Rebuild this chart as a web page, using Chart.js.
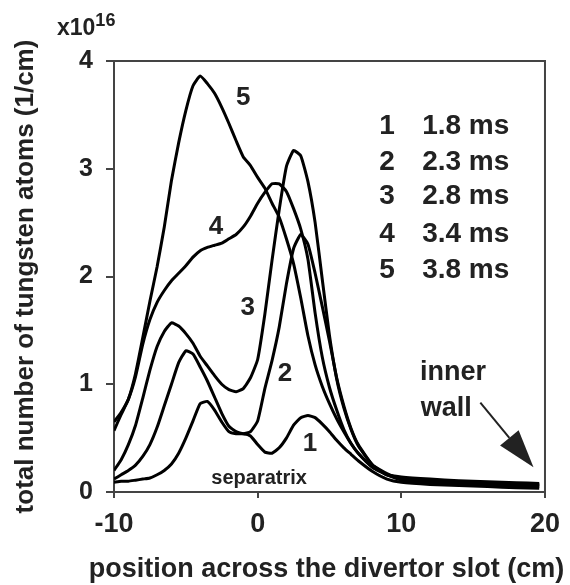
<!DOCTYPE html>
<html>
<head>
<meta charset="utf-8">
<script src="https://cdn.jsdelivr.net/npm/chart.js@4.4.1/dist/chart.umd.min.js"></script>
<style>
  html, body { margin: 0; padding: 0; background: #fff; }
  #wrap { width: 570px; height: 585px; }
</style>
</head>
<body>
<div id="wrap"><canvas id="chart" width="570" height="585"></canvas></div>
<script>
// positions across the divertor slot (cm)
const xPos = [-10, -9.5, -9, -8.5, -8, -7.5, -7, -6.5, -6, -5.5, -5, -4.5, -4, -3.5, -3, -2.5, -2, -1.5, -1, -0.5,
  0, 0.5, 1, 1.5, 2, 2.5, 3, 3.5, 4, 4.5, 5, 5.5, 6, 6.5, 7, 8, 9, 10, 12, 14, 16, 18, 19.6];

// total number of tungsten atoms, units of 1e16 /cm
const curve1 = [0.09, 0.10, 0.10, 0.11, 0.12, 0.13, 0.16, 0.20, 0.26, 0.36, 0.50, 0.66, 0.82, 0.84, 0.76, 0.65, 0.56, 0.54, 0.54, 0.52,
  0.44, 0.37, 0.36, 0.41, 0.50, 0.62, 0.69, 0.71, 0.69, 0.63, 0.56, 0.48, 0.41, 0.35, 0.29, 0.19, 0.12, 0.09, 0.07, 0.06, 0.05, 0.04, 0.035];
const curve2 = [0.12, 0.16, 0.20, 0.25, 0.33, 0.44, 0.60, 0.80, 1.00, 1.20, 1.31, 1.28, 1.16, 1.03, 0.88, 0.73, 0.61, 0.56, 0.54, 0.56,
  0.66, 0.96, 1.22, 1.53, 1.93, 2.26, 2.39, 2.30, 2.03, 1.72, 1.40, 1.06, 0.80, 0.59, 0.44, 0.25, 0.16, 0.11, 0.09, 0.075, 0.065, 0.055, 0.05];
const curve3 = [0.20, 0.30, 0.44, 0.62, 0.87, 1.13, 1.35, 1.49, 1.57, 1.54, 1.47, 1.38, 1.26, 1.17, 1.08, 1.00, 0.95, 0.93, 0.96, 1.06,
  1.23, 1.65, 2.15, 2.62, 3.02, 3.17, 3.12, 2.88, 2.50, 1.97, 1.45, 1.05, 0.78, 0.58, 0.43, 0.25, 0.17, 0.12, 0.10, 0.085, 0.075, 0.065, 0.06];
const curve4 = [0.65, 0.74, 0.86, 1.07, 1.37, 1.60, 1.76, 1.87, 1.96, 2.03, 2.10, 2.18, 2.24, 2.27, 2.29, 2.31, 2.35, 2.39, 2.46, 2.56,
  2.68, 2.78, 2.86, 2.86, 2.79, 2.63, 2.44, 2.16, 1.66, 1.25, 0.97, 0.76, 0.58, 0.45, 0.36, 0.23, 0.16, 0.13, 0.11, 0.095, 0.085, 0.075, 0.07];
const curve5 = [0.57, 0.72, 0.86, 1.10, 1.43, 1.77, 2.09, 2.46, 2.89, 3.24, 3.54, 3.77, 3.86, 3.79, 3.70, 3.57, 3.42, 3.26, 3.11, 3.03,
  2.92, 2.82, 2.68, 2.55, 2.35, 2.12, 1.80, 1.45, 1.18, 0.98, 0.82, 0.68, 0.56, 0.45, 0.36, 0.23, 0.16, 0.14, 0.12, 0.105, 0.095, 0.085, 0.08];

const curves = [curve1, curve2, curve3, curve4, curve5];
const curveNames = ['1', '2', '3', '4', '5'];
const times = ['1.8 ms', '2.3 ms', '2.8 ms', '3.4 ms', '3.8 ms'];

const FONT = '"Liberation Sans", Arial, Helvetica, sans-serif';
const INK = '#222';
const X_TITLE = 'position across the divertor slot (cm)';

// curve number labels, placed in data units
const curveLabelAt = [[3.65, 0.45], [1.9, 1.1], [-0.7, 1.71], [-2.9, 2.46], [-1.0, 3.66]];
// legend rows (data units)
const legendY = [3.39, 3.06, 2.74, 2.39, 2.06];
const legendNumX = 9.0, legendTimeX = 11.45;

const annotations = {
  id: 'annotations',
  afterDatasetsDraw(chart) {
    const { ctx, chartArea: a, scales: { x, y } } = chart;
    ctx.save();
    // frame on top and right
    ctx.strokeStyle = '#444';
    ctx.lineWidth = 2;
    ctx.beginPath();
    ctx.moveTo(a.left, a.top);
    ctx.lineTo(a.right, a.top);
    ctx.lineTo(a.right, a.bottom);
    ctx.stroke();

    ctx.fillStyle = INK;
    ctx.textBaseline = 'middle';

    // curve numbers
    ctx.font = 'bold 26px ' + FONT;
    ctx.textAlign = 'center';
    curveLabelAt.forEach((p, i) => {
      ctx.fillText(curveNames[i], x.getPixelForValue(p[0]), y.getPixelForValue(p[1]));
    });

    // legend
    ctx.font = 'bold 28px ' + FONT;
    legendY.forEach((v, i) => {
      ctx.textAlign = 'center';
      ctx.fillText(curveNames[i], x.getPixelForValue(legendNumX), y.getPixelForValue(v));
      ctx.textAlign = 'left';
      ctx.fillText(times[i], x.getPixelForValue(legendTimeX), y.getPixelForValue(v));
    });

    // separatrix
    ctx.font = 'bold 20px ' + FONT;
    ctx.textAlign = 'center';
    ctx.fillText('separatrix', x.getPixelForValue(0.1), y.getPixelForValue(0.13));

    // inner wall + arrow
    ctx.font = 'bold 27px ' + FONT;
    ctx.textAlign = 'left';
    ctx.fillText('inner', x.getPixelForValue(11.3), y.getPixelForValue(1.11));
    ctx.fillText('wall', x.getPixelForValue(11.35), y.getPixelForValue(0.77));

    const x0 = x.getPixelForValue(15.5), y0 = y.getPixelForValue(0.83);
    const x1 = x.getPixelForValue(19.2), y1 = y.getPixelForValue(0.23);
    const ang = Math.atan2(y1 - y0, x1 - x0);
    const head = 38, half = 12;
    const bx = x1 - head * Math.cos(ang), by = y1 - head * Math.sin(ang);
    ctx.strokeStyle = INK;
    ctx.lineWidth = 2;
    ctx.beginPath();
    ctx.moveTo(x0, y0);
    ctx.lineTo(bx, by);
    ctx.stroke();
    ctx.beginPath();
    ctx.moveTo(x1, y1);
    ctx.lineTo(bx + half * Math.sin(ang), by - half * Math.cos(ang));
    ctx.lineTo(bx - half * Math.sin(ang), by + half * Math.cos(ang));
    ctx.closePath();
    ctx.fill();

    // x axis title, drawn here so it is not squeezed to the axis width
    ctx.font = 'bold 27px ' + FONT;
    ctx.textAlign = 'center';
    ctx.fillText(X_TITLE, (a.left + a.right) / 2 - 3, a.bottom + 78);

    // multiplier above the y axis
    ctx.textAlign = 'left';
    ctx.textBaseline = 'alphabetic';
    ctx.font = 'bold 23px ' + FONT;
    ctx.fillText('x10', a.left - 57, a.top - 26);
    const w = ctx.measureText('x10').width;
    ctx.font = 'bold 18px ' + FONT;
    ctx.fillText('16', a.left - 57 + w, a.top - 35);
    ctx.restore();
  }
};

new Chart(document.getElementById('chart').getContext('2d'), {
  type: 'line',
  data: {
    datasets: curves.map((c, i) => ({
      label: curveNames[i],
      data: c.map((v, j) => ({ x: xPos[j], y: v })),
      borderColor: '#000',
      borderWidth: 3,
      pointRadius: 0,
      tension: 0.15,
      fill: false
    }))
  },
  options: {
    responsive: false,
    animation: false,
    layout: { padding: { top: 61, right: 25, left: 0, bottom: 0 } },
    plugins: { legend: { display: false }, tooltip: { enabled: false } },
    scales: {
      x: {
        type: 'linear',
        min: -10,
        max: 20,
        afterFit(s) { s.height = 93; },
        border: { display: true, color: '#444', width: 2 },
        grid: { drawOnChartArea: false, drawTicks: true, tickLength: 6, color: '#444', lineWidth: 2 },
        ticks: { stepSize: 10, padding: 10, color: INK, font: { family: FONT, size: 27, weight: 'bold' } },
        title: { display: false }
      },
      y: {
        min: 0,
        max: 4,
        afterFit(s) { s.width = 114; },
        border: { display: true, color: '#444', width: 2 },
        grid: { drawOnChartArea: false, drawTicks: true, tickLength: 8, color: '#444', lineWidth: 2 },
        ticks: { stepSize: 1, padding: 13, color: INK, font: { family: FONT, size: 25, weight: 'bold' } },
        title: {
          display: true,
          text: 'total number of tungsten atoms (1/cm)',
          color: INK,
          padding: { top: 10, bottom: 0 },
          font: { family: FONT, size: 26, weight: 'bold' }
        }
      }
    }
  },
  plugins: [annotations]
});
</script>
</body>
</html>
